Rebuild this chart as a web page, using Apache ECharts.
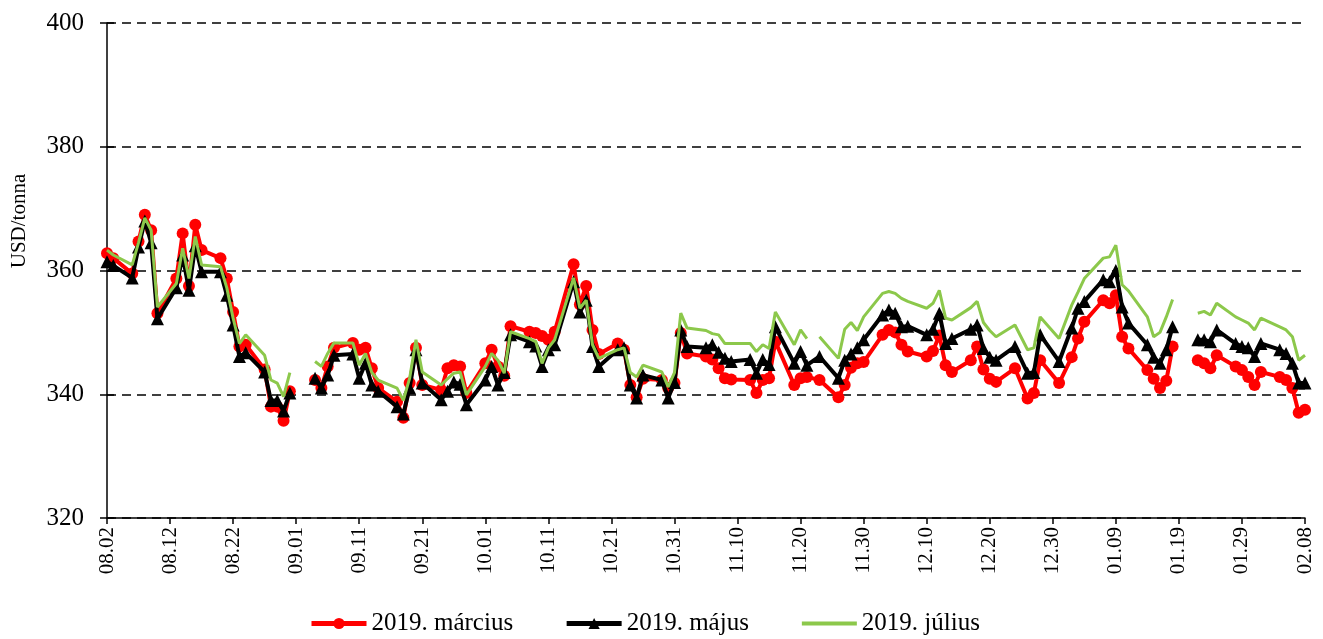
<!DOCTYPE html>
<html>
<head>
<meta charset="utf-8">
<script src="https://cdn.jsdelivr.net/npm/echarts@6/dist/echarts.min.js"></script>
<style>
  html, body { margin: 0; padding: 0; background: #fff; }
  #main { width: 1323px; height: 639px; }
</style>
</head>
<body>
<div id="main"></div>
<script>
// kereskedési napok (2018.08.02 - 2019.02.08), ünnepnapoknál null -> szakadás
var dates = [
  '08.02','08.03','08.06','08.07','08.08','08.09','08.10','08.13','08.14','08.15','08.16','08.17','08.20','08.21','08.22','08.23','08.24','08.27','08.28','08.29','08.30','08.31',
  '09.03','09.04','09.05','09.06','09.07','09.10','09.11','09.12','09.13','09.14','09.17','09.18','09.19','09.20','09.21','09.24','09.25','09.26','09.27','09.28',
  '10.01','10.02','10.03','10.04','10.05','10.08','10.09','10.10','10.11','10.12','10.15','10.16','10.17','10.18','10.19','10.22','10.23','10.24','10.25','10.26','10.29','10.30','10.31',
  '11.01','11.02','11.05','11.06','11.07','11.08','11.09','11.12','11.13','11.14','11.15','11.16','11.19','11.20','11.21','11.22','11.23','11.26','11.27','11.28','11.29','11.30',
  '12.03','12.04','12.05','12.06','12.07','12.10','12.11','12.12','12.13','12.14','12.17','12.18','12.19','12.20','12.21','12.24','12.26','12.27','12.28','12.31',
  '01.02','01.03','01.04','01.07','01.08','01.09','01.10','01.11','01.14','01.15','01.16','01.17','01.18','01.21','01.22','01.23','01.24','01.25','01.28','01.29','01.30','01.31',
  '02.01','02.04','02.05','02.06','02.07','02.08'
];

// 2019. március
var marcius = [
  362.8,362.0,359.5,364.7,369.0,366.5,353.1,358.7,366.0,357.5,367.4,363.3,362.0,358.7,353.3,347.7,348.0,344.0,338.0,338.0,335.7,340.5,
  null,342.3,341.0,344.5,347.5,348.3,347.2,347.5,344.2,341.0,338.8,336.2,341.8,347.5,341.5,340.7,344.2,344.7,344.5,340.2,
  345.0,347.2,344.5,343.0,351.0,350.1,349.9,349.4,348.8,350.1,361.0,354.5,357.5,350.4,346.5,348.2,347.2,341.5,339.5,342.5,342.3,341.0,341.8,
  349.9,346.6,346.1,345.6,344.2,342.6,342.4,342.3,340.2,342.3,342.6,348.5,341.5,342.6,342.8,null,342.3,339.5,341.5,344.3,345.0,345.2,
  349.6,350.4,350.0,348.0,346.9,346.1,347.0,349.5,344.7,343.6,345.5,347.7,344.0,342.5,342.0,344.2,339.3,340.2,345.5,341.8,
  346.0,349.0,351.7,355.2,354.7,356.0,349.3,347.4,343.9,342.5,341.0,342.2,347.7,null,345.5,345.0,344.2,346.3,344.5,343.9,342.8,341.5,
  343.6,342.8,342.3,341.0,337.0,337.5
];

// 2019. május
var majus = [
  361.4,360.8,358.8,363.8,368.0,364.5,352.2,357.2,362.5,356.8,364.0,359.8,359.8,356.0,351.2,346.1,346.7,343.6,339.0,339.0,337.3,340.2,
  null,342.6,341.0,343.1,346.3,346.5,342.6,345.0,341.5,340.5,338.0,336.8,341.0,347.2,341.8,339.1,340.5,342.0,341.6,338.3,
  342.3,344.5,341.5,343.5,349.6,348.5,347.8,344.5,347.2,348.0,358.2,353.3,355.2,347.7,344.5,347.2,347.5,341.5,339.4,343.1,342.3,339.4,341.9,
  350.4,347.7,347.5,348.0,346.8,345.8,345.3,345.6,343.4,345.6,344.8,350.9,345.0,346.9,344.7,null,346.1,342.6,345.5,346.5,347.5,348.8,
  352.8,353.6,353.1,350.9,351.0,349.6,350.5,353.1,348.2,349.0,350.5,351.2,347.4,346.0,345.5,347.7,343.4,343.5,349.6,345.3,
  350.7,353.9,355.0,358.5,358.2,360.0,354.1,351.5,348.0,346.0,345.0,347.2,350.9,null,348.8,348.8,348.5,350.4,348.2,347.7,347.5,346.1,
  348.2,347.2,346.6,345.0,341.8,341.8
];

// 2019. július
var julius = [
  363.3,362.5,360.9,364.5,368.5,366.5,354.1,357.9,363.6,358.7,365.5,360.9,360.6,357.2,352.3,348.2,349.6,346.3,342.3,341.8,339.6,343.5,
  null,345.3,344.5,346.6,348.3,348.3,344.7,346.6,343.5,342.3,341.0,339.0,342.6,348.8,343.6,341.5,342.5,343.4,343.6,339.9,
  344.5,346.6,345.5,343.4,350.1,349.0,348.5,345.0,347.5,348.8,358.8,353.9,355.2,348.0,345.8,347.2,347.5,343.5,342.8,344.7,343.6,341.2,343.5,
  353.1,350.7,350.3,349.8,349.6,348.2,348.2,348.2,346.9,348.0,347.4,353.3,348.0,350.4,349.0,null,349.3,345.8,350.5,351.6,350.3,352.5,
  356.3,356.6,356.3,355.5,355.0,353.9,354.7,356.8,352.3,352.0,354.0,355.0,351.6,350.3,349.3,351.2,347.2,347.5,352.5,349.0,
  354.4,356.5,358.7,362.0,362.2,364.1,357.7,356.7,352.5,349.3,350.0,352.5,355.3,null,353.1,353.4,352.8,354.7,352.5,352.0,351.5,350.4,
  352.3,350.9,350.4,349.3,345.5,346.3
];

// a márciusi és májusi vonal nem szakad meg itt
var connectedDays = ['11.22'];

var yMin = 320, yMax = 400, yStep = 20;
var font = '"Liberation Serif", "Times New Roman", serif';

// naptári napok az x tengelyhez
function pad(n) { return n < 10 ? '0' + n : '' + n; }
var days = [];
var day = new Date(2018, 7, 2);
var last = new Date(2019, 1, 8);
while (day <= last) {
  days.push(pad(day.getMonth() + 1) + '.' + pad(day.getDate()));
  day.setDate(day.getDate() + 1);
}

function pairs(vals, skip) {
  var out = [];
  dates.forEach(function (d, i) {
    if (vals[i] == null && skip && connectedDays.indexOf(d) >= 0) return;
    out.push([d, vals[i]]);
  });
  return out;
}

var chart = echarts.init(document.getElementById('main'));

var option = {
  animation: false,
  backgroundColor: '#fff',
  textStyle: { fontFamily: font, color: '#000' },
  grid: { left: 107, right: 18, top: 23, bottom: 121 },
  legend: {
    left: 309,
    top: 611,
    padding: 0,
    itemWidth: 55,
    itemHeight: 14,
    itemGap: 51,
    textStyle: { fontFamily: font, fontSize: 25, color: '#000' },
    data: [
      { name: '2019. március', lineStyle: { width: 5 } },
      { name: '2019. május', lineStyle: { width: 5 } },
      { name: '2019. július', lineStyle: { width: 4 }, itemStyle: { opacity: 0 } }
    ]
  },
  xAxis: {
    type: 'category',
    data: days,
    boundaryGap: false,
    axisLine: { lineStyle: { color: '#000', width: 1.5 } },
    axisTick: { interval: 9, length: 6, lineStyle: { color: '#000', width: 1.5 } },
    axisLabel: {
      interval: 9,
      rotate: 90,
      margin: 9,
      fontFamily: font,
      fontSize: 21,
      color: '#000'
    },
    splitLine: { show: false }
  },
  yAxis: [{
    type: 'value',
    min: yMin,
    max: yMax,
    interval: yStep,
    axisLine: { show: true, lineStyle: { color: '#000', width: 1.5 } },
    axisTick: { show: true, length: 7, lineStyle: { color: '#000', width: 1.5 } },
    axisLabel: { margin: 23, fontFamily: font, fontSize: 25, color: '#000' },
    splitLine: { lineStyle: { color: '#000', width: 1.5, type: [9, 6] } }
  }, {
    // belső tick-ek (keresztező jelölés)
    type: 'value',
    position: 'left',
    min: yMin,
    max: yMax,
    interval: yStep,
    axisLine: { show: false },
    axisTick: { show: true, inside: true, length: 7, lineStyle: { color: '#000', width: 1.5 } },
    axisLabel: { show: false },
    splitLine: { show: false }
  }],
  graphic: [{
    type: 'text',
    x: 9,
    y: 221,
    rotation: Math.PI / 2,
    style: {
      text: 'USD/tonna',
      font: '21px ' + font,
      fill: '#000',
      textAlign: 'center',
      textVerticalAlign: 'top'
    }
  }],
  series: [{
    name: '2019. március',
    type: 'line',
    data: pairs(marcius, true),
    connectNulls: false,
    showAllSymbol: true,
    color: '#ff0000',
    symbol: 'circle',
    symbolSize: 12,
    lineStyle: { width: 4, color: '#ff0000' },
    itemStyle: { color: '#ff0000' },
    z: 2
  }, {
    name: '2019. május',
    type: 'line',
    data: pairs(majus, true),
    connectNulls: false,
    showAllSymbol: true,
    color: '#000',
    symbol: 'triangle',
    symbolSize: 13,
    lineStyle: { width: 4, color: '#000' },
    itemStyle: { color: '#000' },
    z: 3
  }, {
    name: '2019. július',
    type: 'line',
    data: pairs(julius, false),
    connectNulls: false,
    color: '#8cc84b',
    symbol: 'none',
    showSymbol: false,
    lineStyle: { width: 3, color: '#8cc84b' },
    z: 4
  }]
};

chart.setOption(option);
</script>
</body>
</html>
